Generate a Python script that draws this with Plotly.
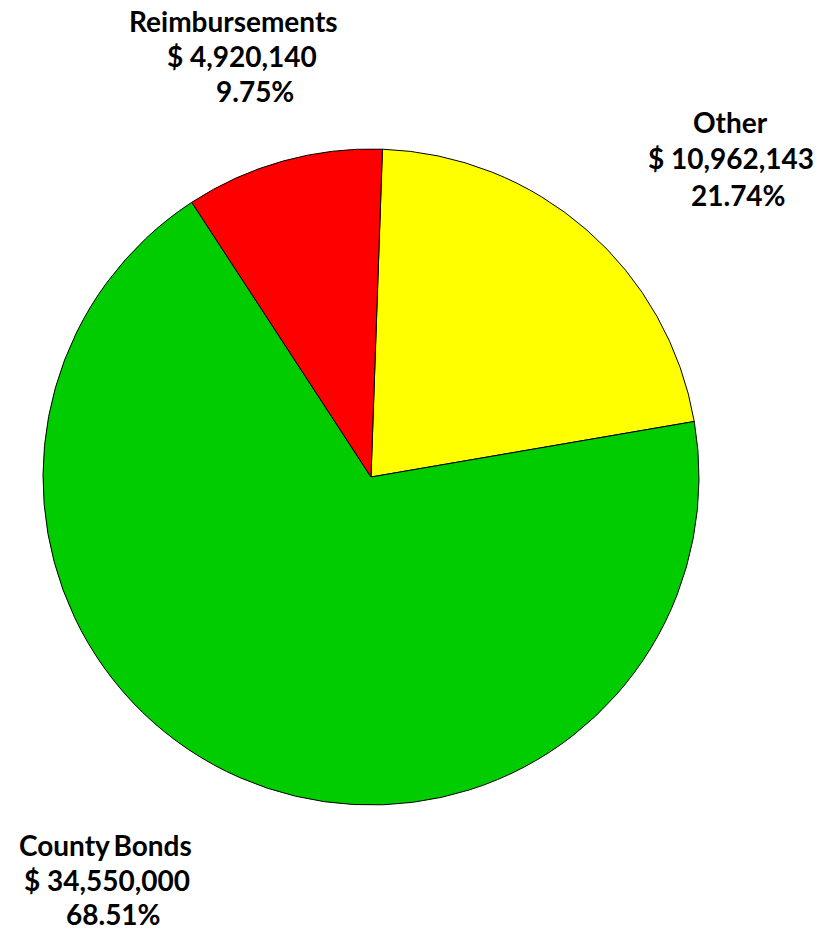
import plotly.graph_objects as go

labels = ["Other", "County Bonds", "Reimbursements"]
values = [10962143, 34550000, 4920140]
percents = ["21.74%", "68.51%", "9.75%"]
colors = ["#FFFF00", "#00CC00", "#FF0000"]

W, H = 822, 934
cx, cy, r = 371, 477, 328

fig = go.Figure(go.Pie(
    labels=labels, values=values, sort=False, direction="clockwise",
    rotation=2, textinfo="none", hoverinfo="label+value+percent",
    marker=dict(colors=colors, line=dict(color="black", width=1)),
    domain=dict(x=[(cx - r) / W, (cx + r) / W], y=[1 - (cy + r) / H, 1 - (cy - r) / H]),
    showlegend=False,
))

# label positions (pixel centres of each line)
label_pos = {
    "Reimbursements": [(233, 21), (242, 56), (255, 91)],
    "Other": [(730, 122), (731, 158), (738, 195)],
    "County Bonds": [(105, 845), (107, 880), (113, 914)],
}
for lab, val, pct in zip(labels, values, percents):
    lines = [lab.replace(" ", "\u2009") if lab == "County Bonds" else lab,
             f"$ {val:,}", pct]
    for text, (px, py) in zip(lines, label_pos[lab]):
        fig.add_annotation(x=px / W, y=1 - py / H, xref="paper", yref="paper",
                           text=f"<b>{text}</b>", showarrow=False,
                           xanchor="center", yanchor="middle", borderpad=0,
                           font=dict(family="Lato", size=28, color="black"))

fig.update_layout(width=W, height=H, margin=dict(l=0, r=0, t=0, b=0),
                  paper_bgcolor="white", plot_bgcolor="white")
fig.write_html("out.html")
